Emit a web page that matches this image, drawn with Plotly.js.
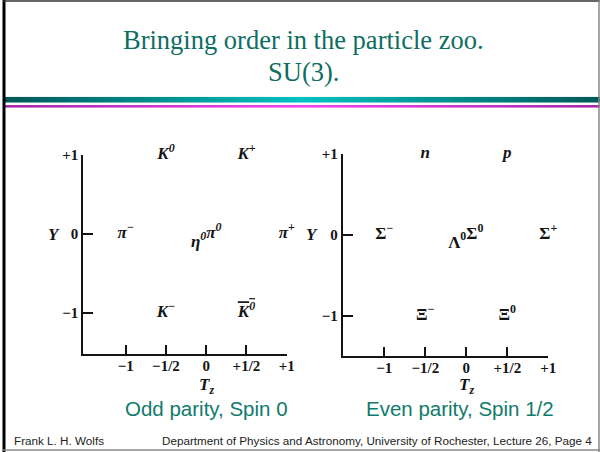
<!DOCTYPE html>
<html>
<head>
<meta charset="utf-8">
<script src="https://cdn.plot.ly/plotly-3.0.1.min.js"></script>
<style>html,body{margin:0;padding:0;background:#fff;}#chart{width:600px;height:452px;}</style>
</head>
<body>
<div id="chart"></div>
<script>
// ---- data ----
const tzTicks = [-1, -0.5, 0, 0.5, 1];
const tzTickText = ['\u22121', '\u22121/2', '0', '+1/2', '+1'];
const yTicks = [-1, 0, 1];
const yTickText = ['\u22121', '0', '+1'];

const mesonTz = [-0.5, 0.5, -1, 1, 0, 0, -0.5, 0.5];
const mesonY = [1, 1, 0, 0, 0, 0, -1, -1];
const mesonLabels = ['K<sup>0</sup>', 'K<sup>+</sup>', '\u03c0<sup>\u2212</sup>', '\u03c0<sup>+</sup>',
  '\u03b7<sup>0</sup>', '\u03c0<sup>0</sup>', 'K<sup>\u2212</sup>',
  '<span style="text-decoration:overline">K<sup>0</sup></span>'];

const baryonTz = [-0.5, 0.5, -1, 1, 0, 0, -0.5, 0.5];
const baryonY = [1, 1, 0, 0, 0, 0, -1, -1];
const baryonLabels = ['n', 'p', '\u03a3<sup>\u2212</sup>', '\u03a3<sup>+</sup>',
  '\u039b<sup>0</sup>', '\u03a3<sup>0</sup>', '\u039e<sup>\u2212</sup>', '\u039e<sup>0</sup>'];

const titleLines = ['Bringing order in the particle zoo.', 'SU(3).'];
const captions = ['Odd parity, Spin 0', 'Even parity, Spin 1/2'];
const footerLeft = 'Frank L. H. Wolfs';
const footerRight = 'Department of Physics and Astronomy, University of Rochester, Lecture 26, Page 4';

// ---- layout helpers ----
const W = 600, H = 452;
const px = x => x / W;
const py = y => 1 - y / H;

const mesonPos = ['middle center', 'middle center', 'middle center', 'middle center',
  'bottom left', 'middle right', 'middle center', 'middle center'];
const baryonPos = ['middle center', 'middle center', 'middle center', 'middle center',
  'bottom left', 'middle right', 'middle center', 'middle center'];

const ink = '#141414';
const serif = 'Liberation Serif, Times New Roman, serif';
const sans = 'Liberation Sans, Arial, sans-serif';
const labelFont = {family: serif, size: 17, color: ink, weight: 700, style: 'italic'};
const uprightFont = {family: serif, size: 17, color: ink, weight: 700};
const tickFont = {family: serif, size: 15, color: ink, weight: 700};

function xAxis(domain, range, anchor) {
  return {domain, range, anchor, tickvals: tzTicks, ticktext: tzTickText, ticks: 'inside', ticklen: 9,
    tickwidth: 2, tickcolor: ink, showline: true, linewidth: 2, linecolor: ink, showgrid: false,
    zeroline: false, tickfont: tickFont, ticklabelstandoff: -3, fixedrange: true};
}
function yAxis(domain, range, anchor) {
  return {domain, range, anchor, tickvals: yTicks, ticktext: yTickText, ticks: 'inside', ticklen: 10,
    tickwidth: 2, tickcolor: ink, showline: true, linewidth: 2, linecolor: ink, showgrid: false,
    zeroline: false, tickfont: tickFont, fixedrange: true};
}

const traces = [
  {type: 'scatter', mode: 'text', x: mesonTz, y: mesonY, text: mesonLabels, textposition: mesonPos,
    textfont: labelFont, xaxis: 'x', yaxis: 'y', hoverinfo: 'skip', cliponaxis: false, showlegend: false},
  {type: 'scatter', mode: 'text', x: baryonTz, y: baryonY, text: baryonLabels, textposition: baryonPos,
    textfont: {...uprightFont, style: ['italic','italic','normal','normal','normal','normal','normal','normal']},
    xaxis: 'x2', yaxis: 'y2', hoverinfo: 'skip', cliponaxis: false, showlegend: false}
];

function gradSvg(c1, c2) {
  const s = "<svg xmlns='http://www.w3.org/2000/svg' width='600' height='10' preserveAspectRatio='none' viewBox='0 0 600 10'>" +
    "<defs><linearGradient id='g' x1='0' x2='1' y1='0' y2='0'><stop offset='0' stop-color='" + c1 + "'/>" +
    "<stop offset='0.5' stop-color='" + c2 + "'/><stop offset='1' stop-color='" + c1 + "'/></linearGradient></defs>" +
    "<rect x='0' y='0' width='600' height='10' fill='url(#g)'/></svg>";
  return 'data:image/svg+xml;charset=utf-8,' + encodeURIComponent(s);
}

const teal = '#0d6e62';
const capTeal = '#107a6b';

const annotations = [
  {text: titleLines[0], xref: 'paper', yref: 'paper', x: px(303), y: py(40), xanchor: 'center', yanchor: 'middle',
    showarrow: false, font: {family: serif, size: 26.5, color: teal}},
  {text: titleLines[1], xref: 'paper', yref: 'paper', x: px(303), y: py(72), xanchor: 'center', yanchor: 'middle',
    showarrow: false, font: {family: serif, size: 26.5, color: teal}},
  {text: captions[0], xref: 'paper', yref: 'paper', x: px(206), y: py(408), xanchor: 'center', yanchor: 'middle',
    showarrow: false, font: {family: sans, size: 20.5, color: capTeal}},
  {text: captions[1], xref: 'paper', yref: 'paper', x: px(460), y: py(408), xanchor: 'center', yanchor: 'middle',
    showarrow: false, font: {family: sans, size: 20.5, color: capTeal}},
  {text: footerLeft, xref: 'paper', yref: 'paper', x: px(12), y: py(440), xanchor: 'left', yanchor: 'middle',
    showarrow: false, font: {family: sans, size: 11.7, color: '#222'}},
  {text: footerRight, xref: 'paper', yref: 'paper', x: px(594), y: py(440), xanchor: 'right', yanchor: 'middle',
    showarrow: false, font: {family: sans, size: 11.7, color: '#222'}},
  {text: 'Y', xref: 'paper', yref: 'y', x: px(54), y: 0, xanchor: 'center', yanchor: 'middle',
    showarrow: false, font: labelFont},
  {text: 'Y', xref: 'paper', yref: 'y2', x: px(312), y: 0, xanchor: 'center', yanchor: 'middle',
    showarrow: false, font: labelFont},
  {text: 'T<sub>z</sub>', xref: 'x', yref: 'paper', x: 0, y: py(386), xanchor: 'center', yanchor: 'middle',
    showarrow: false, font: labelFont},
  {text: 'T<sub>z</sub>', xref: 'x2', yref: 'paper', x: 0, y: py(386), xanchor: 'center', yanchor: 'middle',
    showarrow: false, font: labelFont}
];

const shapes = [
  {type: 'line', xref: 'paper', yref: 'paper', x0: px(4), x1: px(4), y0: py(0), y1: py(452), line: {color: '#000', width: 3}},
  {type: 'line', xref: 'paper', yref: 'paper', x0: px(3), x1: px(600), y0: py(1), y1: py(1), line: {color: '#333', width: 1.5}},
  {type: 'line', xref: 'paper', yref: 'paper', x0: px(3), x1: px(600), y0: py(450), y1: py(450), line: {color: '#888', width: 1.5}},
  {type: 'line', xref: 'paper', yref: 'paper', x0: px(599), x1: px(599), y0: py(0), y1: py(452), line: {color: '#888', width: 1.5}}
];

const images = [
  {source: gradSvg('#005858', '#00c2c2'), xref: 'paper', yref: 'paper', x: px(5), y: py(96.7), sizex: px(595), sizey: 6 / H,
    xanchor: 'left', yanchor: 'top', sizing: 'stretch', layer: 'below'},
  {source: gradSvg('#a42aa8', '#f444f0'), xref: 'paper', yref: 'paper', x: px(5), y: py(105), sizex: px(595), sizey: 2.8 / H,
    xanchor: 'left', yanchor: 'top', sizing: 'stretch', layer: 'below'}
];

const layout = {
  width: W, height: H, margin: {l: 0, r: 0, t: 0, b: 0}, paper_bgcolor: '#fff', plot_bgcolor: 'rgba(0,0,0,0)',
  showlegend: false,
  xaxis: xAxis([px(83.3), px(286.7)], [-1.527, 1], 'y'),
  yaxis: yAxis([py(354), py(155)], [-1.519, 1], 'x'),
  xaxis2: xAxis([px(342.7), px(548.3)], [-1.507, 1], 'y2'),
  yaxis2: yAxis([py(356), py(154)], [-1.498, 1], 'x2'),
  annotations, shapes, images
};

Plotly.newPlot('chart', traces, layout, {displayModeBar: false, staticPlot: true});
</script>
</body>
</html>
